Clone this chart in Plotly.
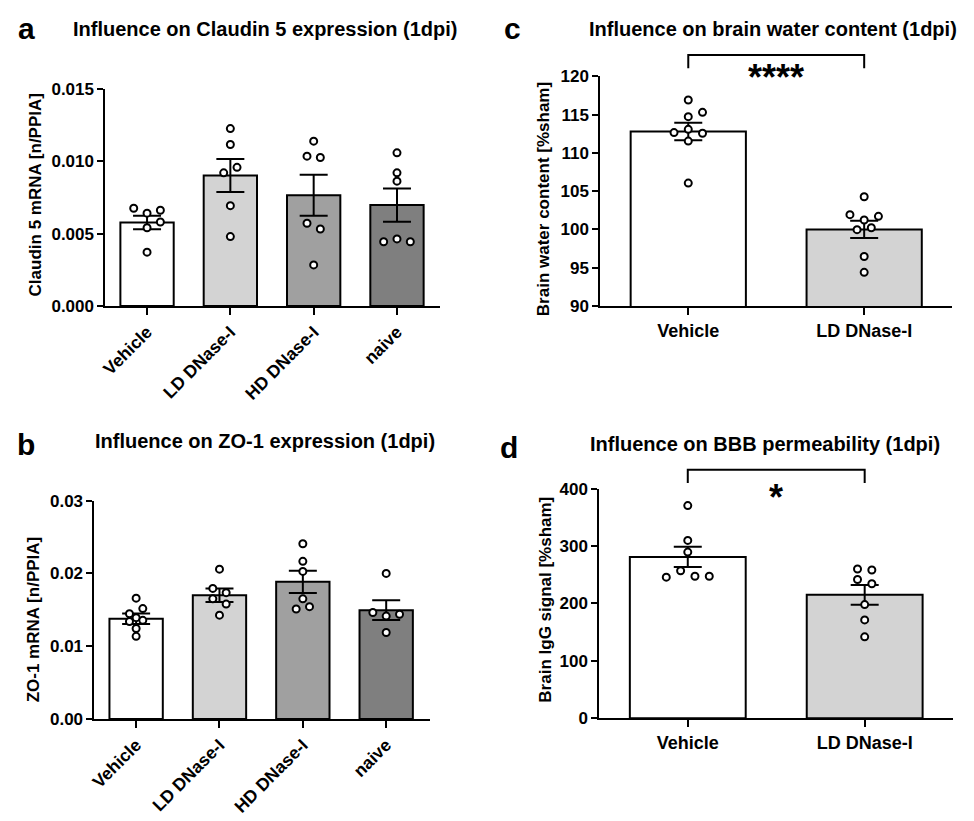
import plotly.graph_objects as go

FONT = "Liberation Sans, Arial, Helvetica, sans-serif"
W, H = 974, 821

# ---------------- data ----------------
groups4 = ["Vehicle", "LD DNase-I", "HD DNase-I", "naive"]
groups2 = ["Vehicle", "LD DNase-I"]
colors4 = ["#ffffff", "#d3d3d3", "#a0a0a0", "#7f7f7f"]
colors2 = ["#ffffff", "#d3d3d3"]

# a: Claudin 5
claudin_mean = [0.00577, 0.00902, 0.00766, 0.00698]
claudin_sem = [0.00047, 0.00114, 0.00142, 0.00115]
claudin_vehicle = [0.00676, 0.00642, 0.00662, 0.00541, 0.00581, 0.00372]
claudin_ld = [0.01227, 0.01117, 0.00921, 0.00959, 0.00694, 0.00480]
claudin_hd = [0.01140, 0.01036, 0.01027, 0.00572, 0.00532, 0.00284]
claudin_naive = [0.01059, 0.00921, 0.00863, 0.00444, 0.00464, 0.00444]

# b: ZO-1
zo1_mean = [0.01375, 0.01700, 0.01885, 0.01495]
zo1_sem = [0.00072, 0.00092, 0.00153, 0.00137]
zo1_vehicle = [0.01660, 0.01516, 0.01445, 0.01391, 0.01338, 0.01355, 0.01243, 0.01135]
zo1_ld = [0.02058, 0.01794, 0.01735, 0.01650, 0.01578, 0.01426]
zo1_hd = [0.02408, 0.02166, 0.02027, 0.01650, 0.01511, 0.01543]
zo1_naive = [0.02000, 0.01462, 0.01413, 0.01439, 0.01188]

# c: brain water content
water_mean = [112.8, 100.0]
water_sem = [1.13, 1.13]
water_vehicle = [116.92, 114.74, 115.30, 112.66, 113.08, 112.57, 111.55, 106.06]
water_ld = [104.27, 101.93, 101.71, 101.24, 99.97, 100.22, 96.47, 94.39]

# d: BBB permeability
igg_mean = [281.0, 215.0]
igg_sem = [17.6, 17.3]
igg_vehicle = [370.5, 309.8, 289.4, 245.7, 257.0, 247.4, 247.4]
igg_ld = [259.9, 258.2, 241.7, 234.3, 198.0, 171.3, 141.8]

# horizontal scatter slots of the points (layout only, in marker-step units)
off_claudin = [[-1, 0, 1, 0, 1, 0], [0, 0, -0.5, 0.5, 0, 0],
               [0, -0.5, 0.5, -0.5, 0.5, 0], [0, 0, 0, -1, 0, 1]]
off_zo1 = [[0, 0.5, -0.5, 0, -0.5, 0.5, 0, 0], [0, -0.5, 0.5, -0.5, 0.5, 0],
           [0, 0, 0, 0, -0.5, 0.5], [0, -1, 0, 1, 0]]
off_water = [[0, 0, 1, -1, 0, 1, 0, 0], [0, -1, 1, 0, -0.5, 0.5, 0, 0]]
off_igg = [[0, 0, 0, -1.5, -0.5, 0.5, 1.5], [-0.5, 0.5, -0.5, 0.5, 0, 0, 0]]


def px_x(p):
    return p / W


def px_y(p):
    return 1 - p / H


fig = go.Figure()

panels = [
    dict(ax="", cats=groups4, colors=colors4, mean=claudin_mean, sem=claudin_sem,
         pts=[claudin_vehicle, claudin_ld, claudin_hd, claudin_naive], off=off_claudin,
         xdom=[px_x(100), px_x(437)], ydom=[px_y(304), px_y(82)],
         xr=[-0.5, 3.52], yr=[0, 0.015], dtick=0.005, fmt=".3f", step=0.16, bw=0.64, angle=-45),
    dict(ax="2", cats=groups4, colors=colors4, mean=zo1_mean, sem=zo1_sem,
         pts=[zo1_vehicle, zo1_ld, zo1_hd, zo1_naive], off=off_zo1,
         xdom=[px_x(89), px_x(427)], ydom=[px_y(726.7), px_y(503.3)],
         xr=[-0.5, 3.53], yr=[0, 0.03], dtick=0.01, fmt=".2f", step=0.16, bw=0.64, angle=-45),
    dict(ax="3", cats=groups2, colors=colors2, mean=water_mean, sem=water_sem,
         pts=[water_vehicle, water_ld], off=off_water,
         xdom=[px_x(598), px_x(952)], ydom=[px_y(304), px_y(69)],
         xr=[-0.5, 1.5], yr=[90, 120], dtick=5, fmt="d", step=0.081, bw=0.655, angle=0),
    dict(ax="4", cats=groups2, colors=colors2, mean=igg_mean, sem=igg_sem,
         pts=[igg_vehicle, igg_ld], off=off_igg,
         xdom=[px_x(597), px_x(953)], ydom=[px_y(726), px_y(491)],
         xr=[-0.5, 1.5], yr=[0, 400], dtick=100, fmt="d", step=0.081, bw=0.655, angle=0),
]

for p in panels:
    xa, ya = "x" + p["ax"], "y" + p["ax"]
    n = len(p["cats"])
    xs = list(range(n))
    fig.add_trace(go.Bar(
        x=xs, y=p["mean"], width=p["bw"], xaxis=xa, yaxis=ya,
        marker=dict(color=p["colors"], line=dict(color="black", width=2)),
        error_y=dict(type="data", array=p["sem"], visible=True, color="black",
                     thickness=2, width=14),
        showlegend=False, hoverinfo="skip"))
    for i, vals in enumerate(p["pts"]):
        px = [i + o * p["step"] for o in p["off"][i]]
        fig.add_trace(go.Scatter(
            x=px, y=vals, mode="markers", xaxis=xa, yaxis=ya,
            marker=dict(symbol="circle", size=7, color="white",
                        line=dict(color="black", width=2)),
            showlegend=False, hoverinfo="skip", cliponaxis=False))
    axkey = "xaxis" + p["ax"]
    aykey = "yaxis" + p["ax"]
    fig.layout[axkey] = dict(
        domain=p["xdom"], range=p["xr"], anchor=ya, tickmode="array",
        tickvals=xs, ticktext=p["cats"], tickangle=p["angle"],
        showline=True, linecolor="black", linewidth=2, ticks="outside",
        ticklen=7, tickwidth=2, tickcolor="black", showgrid=False, zeroline=False,
        fixedrange=True,
        tickfont=dict(family=FONT, size=18 if p["angle"] == 0 else 17.5,
                      color="black", weight="bold"))
    fig.layout[aykey] = dict(
        domain=p["ydom"], range=p["yr"], anchor=xa, dtick=p["dtick"], tick0=p["yr"][0],
        tickformat=p["fmt"], showline=True, linecolor="black", linewidth=2,
        ticks="outside", ticklen=6, tickwidth=2, tickcolor="black",
        showgrid=False, zeroline=False, fixedrange=True,
        tickfont=dict(family=FONT, size=17, color="black", weight="bold"))

# significance brackets (in axis-domain units derived from data)
def dom_x(p, v):
    return (v - p["xr"][0]) / (p["xr"][1] - p["xr"][0])


def dom_y(p, v):
    return (v - p["yr"][0]) / (p["yr"][1] - p["yr"][0])


brackets = [(panels[2], 122.8, 121.05, "****", 119.9, 36),
            (panels[3], 433.0, 410.0, "*", 385.0, 36)]
for p, top, foot, label, ly, fs in brackets:
    x0, x1 = dom_x(p, 0), dom_x(p, 1)
    yt, yf = dom_y(p, top), dom_y(p, foot)
    fig.add_shape(type="path",
                  path=f"M {x0} {yf} L {x0} {yt} L {x1} {yt} L {x1} {yf}",
                  xref="x" + p["ax"] + " domain", yref="y" + p["ax"] + " domain",
                  line=dict(color="black", width=2))
    fig.add_annotation(x=0.5, y=ly, xref="x" + p["ax"], yref="y" + p["ax"],
                       text=f"<b>{label}</b>", showarrow=False,
                       font=dict(family=FONT, size=fs, color="black"))

# titles, panel letters, y-axis titles
texts = [
    ("a", 21, 20, 30, 0), ("b", 20, 446, 30, 0), ("c", 510, 20, 30, 0), ("d", 506, 449, 30, 0),
    ("Influence on Claudin 5 expression (1dpi)", 261.5, 20, 20, 0),
    ("Influence on ZO-1 expression (1dpi)", 261, 442, 20, 0),
    ("Influence on brain water content (1dpi)", 771.5, 20, 20, 0),
    ("Influence on BBB permeability (1dpi)", 764, 445, 20, 0),
    ("Claudin 5 mRNA [n/PPIA]", 30, 190, 17, -90),
    ("ZO-1 mRNA [n/PPIA]", 28, 625, 17, -90),
    ("Brain water content [%sham]", 541, 195, 17, -90),
    ("Brain IgG signal [%sham]", 543, 605, 17, -90),
]
for t, x, y, s, ang in texts:
    fig.add_annotation(x=px_x(x), y=px_y(y), xref="paper", yref="paper",
                       text=f"<b>{t}</b>", showarrow=False, textangle=ang,
                       xanchor="center", yanchor="middle",
                       font=dict(family=FONT, size=s, color="black"))

fig.update_layout(width=W, height=H, autosize=False,
                  margin=dict(l=0, r=0, t=0, b=0),
                  paper_bgcolor="white", plot_bgcolor="white",
                  bargap=0, showlegend=False, hovermode=False)

fig.write_html("out.html",
               config={"displayModeBar": False, "staticPlot": True},
               post_script="document.body.style.margin='0';"
                           "document.body.style.overflow='hidden';")
